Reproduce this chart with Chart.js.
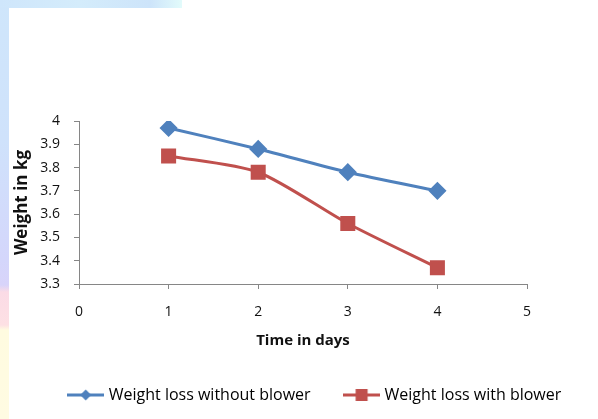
<!DOCTYPE html>
<html>
<head>
<meta charset="utf-8">
<script src="https://cdn.jsdelivr.net/npm/chart.js@4/dist/chart.umd.min.js"></script>
<style>
  html, body { margin: 0; padding: 0; background: #fff; }
  #wrap { position: relative; width: 598px; height: 419px; overflow: hidden; }
  .strip-left { position: absolute; left: 0; top: 0; width: 9px; height: 419px;
    background: linear-gradient(#cfe6fb 0, #cfe2fb 140px, #d4d6fb 260px, #d8d4fa 285px, #fbdbe6 292px, #fde0e4 325px, #fffbe0 330px, #fffbe2 419px); }
  .strip-top { position: absolute; left: 0; top: 0; width: 182px; height: 8px;
    background: linear-gradient(90deg, #cfe6fb, #d4ecfb 80px, #cde4fa 150px, #e2fbfb 182px); }
  canvas { position: absolute; left: 0; top: 0; }
</style>
</head>
<body>
<div id="wrap">
  <div class="strip-left"></div>
  <div class="strip-top"></div>
  <canvas id="chart" width="598" height="419"></canvas>
</div>
<script>
// 資料
const days = [1, 2, 3, 4];
const withoutBlower = [3.97, 3.88, 3.78, 3.70];
const withBlower = [3.85, 3.78, 3.56, 3.37];
const seriesNames = ['Weight loss without blower', 'Weight loss with blower'];
const xTitle = 'Time in days';
const yTitle = 'Weight in kg';

const BLUE = '#4f81bd';
const RED = '#c0504d';
const AXIS = '#868686';

// legend marker: line + point, drawn on a small canvas
function legendMarker(color, shape) {
  const c = document.createElement('canvas');
  c.width = 37; c.height = 14;
  const g = c.getContext('2d');
  g.strokeStyle = color; g.lineWidth = 3;
  g.beginPath(); g.moveTo(0, 7); g.lineTo(37, 7); g.stroke();
  g.fillStyle = color;
  if (shape === 'diamond') {
    g.beginPath(); g.moveTo(18.5, 1.5); g.lineTo(24, 7); g.lineTo(18.5, 12.5); g.lineTo(13, 7); g.closePath(); g.fill();
  } else {
    g.fillRect(12.5, 1, 12, 12);
  }
  return c;
}

const markers = [legendMarker(BLUE, 'diamond'), legendMarker(RED, 'square')];

const toPoints = (ys) => ys.map((y, i) => ({ x: days[i], y }));

// shift the legend to the right, like the original
const legendShift = {
  id: 'legendShift',
  afterLayout(chart) {
    const lg = chart.legend;
    if (!lg) return;
    lg.left += 17;
    lg.right += 17;
  },
};

new Chart(document.getElementById('chart'), {
  type: 'line',
  data: {
    datasets: [
      {
        label: seriesNames[0],
        data: toPoints(withoutBlower),
        borderColor: BLUE,
        backgroundColor: BLUE,
        borderWidth: 3,
        pointStyle: 'rectRot',
        pointRadius: 7,
        pointHoverRadius: 7,
        tension: 0.25,
      },
      {
        label: seriesNames[1],
        data: toPoints(withBlower),
        borderColor: RED,
        backgroundColor: RED,
        borderWidth: 3,
        pointStyle: 'rect',
        pointRadius: 8.5,
        pointHoverRadius: 8.5,
        tension: 0.25,
      },
    ],
  },
  plugins: [legendShift],
  options: {
    responsive: false,
    animation: false,
    layout: { padding: { left: 0, top: 121, right: 0, bottom: 6 } },
    plugins: {
      tooltip: { enabled: false },
      legend: {
        position: 'bottom',
        labels: {
          usePointStyle: true,
          pointStyleWidth: 30,
          padding: 36,
          color: '#111',
          font: { family: '"Open Sans"', size: 16 },
          generateLabels(chart) {
            return chart.data.datasets.map((ds, i) => ({
              text: ds.label,
              pointStyle: markers[i],
              fillStyle: ds.borderColor,
              strokeStyle: ds.borderColor,
              lineWidth: 0,
              hidden: false,
              datasetIndex: i,
            }));
          },
        },
      },
    },
    scales: {
      x: {
        type: 'linear',
        min: 0,
        max: 5,
        afterFit(scale) { scale.height = 67; },
        ticks: { stepSize: 1, padding: 15, color: '#111', font: { family: '"Open Sans"', size: 14 } },
        grid: { drawOnChartArea: false, tickLength: 5, color: AXIS },
        border: { color: AXIS, width: 1 },
        title: {
          display: true,
          text: xTitle,
          color: '#111',
          padding: { top: 0, bottom: 1 },
          font: { family: '"Open Sans"', size: 15, weight: 'bold' },
        },
      },
      y: {
        min: 3.3,
        max: 4,
        afterFit(scale) { scale.width = 79; },
        ticks: {
          stepSize: 0.1,
          padding: 14,
          color: '#111',
          font: { family: '"Open Sans"', size: 14 },
          callback: (v) => String(Number(v.toFixed(1))),
        },
        grid: { drawOnChartArea: false, tickLength: 5, color: AXIS },
        border: { color: AXIS, width: 1 },
        title: {
          display: true,
          text: yTitle,
          color: '#111',
          padding: { top: 12, bottom: 0 },
          font: { family: '"Open Sans"', size: 17, weight: 'bold' },
        },
      },
      // empty right margin
      yRight: {
        position: 'right',
        min: 3.3,
        max: 4,
        afterFit(scale) { scale.width = 71; },
        ticks: { display: false },
        grid: { display: false },
        border: { display: false },
      },
    },
  },
});
</script>
</body>
</html>
